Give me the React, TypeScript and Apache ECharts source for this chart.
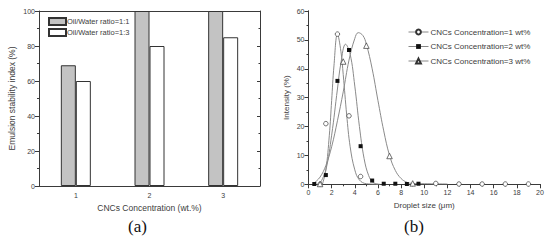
import React, { useEffect, useRef } from 'react';
import * as echarts from 'echarts';

// ---------- (a) bar chart data ----------
const concentrations = ['1', '2', '3'];
const ratio11 = [69, 100, 100];
const ratio13 = [60, 80, 85];

// ---------- (b) droplet size data ----------
const conc1Points = [[1, 0], [1.5, 21], [2.5, 52], [3.5, 23.7], [4.5, 2.7], [11, 0.3], [13, 0.1], [15, 0.1], [17, 0.1], [19, 0.1]];
const conc2Points = [[0.5, 0.1], [1.5, 3.2], [2.5, 35.8], [3.5, 46.5], [4.5, 13.2], [5.5, 1.3], [6.5, 0.2], [7.5, 0.2], [8.5, 0.1], [9.5, 0.2]];
const conc3Points = [[1, 0.1], [3, 42.5], [5, 48], [7, 9.8], [9, 0.3]];

// fitted curves
const conc1Fit = [[1.2, 0], [1.5, 5], [1.8, 17], [2.0, 29], [2.2, 41], [2.5, 52], [2.8, 46], [3.0, 38], [3.3, 24], [3.6, 13], [4.0, 5], [4.4, 1.5], [5.0, 0.2], [6, 0]];
const conc2Fit = [[1.0, 0.3], [1.5, 5], [2.0, 17], [2.5, 33], [2.8, 42], [3.2, 48.5], [3.6, 45], [4.0, 34], [4.4, 20], [4.8, 9], [5.2, 3], [5.6, 0.6], [6.2, 0]];
const conc3Fit = [[0.5, 0.5], [1.0, 2.5], [1.5, 6.5], [2.0, 13], [2.5, 22], [3.0, 32], [3.5, 43], [4.0, 50.5], [4.3, 52.5], [4.7, 51.5], [5.0, 48.5], [5.5, 40], [6.0, 29], [6.5, 18.5], [7.0, 10], [7.5, 4.8], [8.0, 2], [8.5, 0.7], [9.0, 0.3], [10, 0.2], [12, 0.1]];

const seriesNames = ['CNCs Concentration=1 wt%', 'CNCs Concentration=2 wt%', 'CNCs Concentration=3 wt%'];
const barNames = ['Oil/Water ratio=1:1', 'Oil/Water ratio=1:3'];

const FONT = 'Liberation Sans, Arial, sans-serif';
const AX = '#3a3a3a';
const TXT = '#3c3c3c';

export default function App() {
  const ref = useRef<HTMLDivElement>(null);
  useEffect(() => {
    if (!ref.current) return;
    const chart = echarts.init(ref.current, undefined, { renderer: 'svg' });
    const axisLine = { show: true, lineStyle: { color: AX, width: 1 } };
    const labelStyle = { color: TXT, fontSize: 7, fontFamily: FONT };
    const openMarker = { color: '#ffffff', borderColor: '#333', borderWidth: 0.7 };
    const option: any = {
      animation: false,
      backgroundColor: '#fff',
      grid: [
        { left: 39, top: 11, width: 221, height: 175 },
        { left: 308.5, top: 11, width: 231.5, height: 173.3 },
      ],
      legend: [
        {
          data: barNames,
          orient: 'vertical',
          left: 43,
          top: 12,
          itemWidth: 17,
          itemHeight: 7,
          itemGap: 2,
          icon: 'rect',
          textStyle: { fontSize: 7.5, color: TXT, fontFamily: FONT, padding: [0, 0, 0, -4] },
        },
        {
          data: seriesNames,
          orient: 'vertical',
          left: 403,
          top: 23,
          itemWidth: 20,
          itemHeight: 6,
          itemGap: 6.5,
          textStyle: { fontSize: 8, color: TXT, fontFamily: FONT, padding: [0, 0, 0, -3] },
          lineStyle: { color: '#888', width: 1, opacity: 1 },
        },
      ],
      xAxis: [
        {
          gridIndex: 0, type: 'category', data: concentrations, position: 'bottom',
          axisLine, axisTick: { alignWithLabel: true, length: 4, lineStyle: { color: AX } },
          axisLabel: { ...labelStyle, margin: 6 },
          name: 'CNCs Concentration (wt.%)', nameLocation: 'middle', nameGap: 15,
          nameTextStyle: { fontSize: 8.5, color: TXT, fontFamily: FONT },
        },
        {
          gridIndex: 0, type: 'category', data: concentrations, position: 'bottom',
          axisLine: { show: false }, axisTick: { length: 2, lineStyle: { color: AX } },
          axisLabel: { show: false },
        },
        {
          gridIndex: 0, type: 'category', data: concentrations, position: 'top',
          axisLine, axisTick: { alignWithLabel: true, inside: true, length: 3, lineStyle: { color: AX } },
          axisLabel: { show: false },
        },
        {
          gridIndex: 1, type: 'value', min: 0, max: 20, interval: 2, position: 'bottom',
          axisLine, axisTick: { length: 4, lineStyle: { color: AX } },
          minorTick: { show: true, splitNumber: 2, length: 2, lineStyle: { color: AX } },
          splitLine: { show: false },
          axisLabel: { ...labelStyle, margin: 5 },
          name: 'Droplet size (μm)', nameLocation: 'middle', nameGap: 17,
          nameTextStyle: { fontSize: 8, color: TXT, fontFamily: FONT },
        },
        {
          gridIndex: 1, type: 'value', min: 0, max: 20, interval: 2, position: 'top',
          axisLine, axisTick: { inside: true, length: 3, lineStyle: { color: AX } },
          minorTick: { show: true, splitNumber: 2, length: 1.5, lineStyle: { color: AX } },
          splitLine: { show: false }, axisLabel: { show: false },
        },
      ],
      yAxis: [
        {
          gridIndex: 0, type: 'value', min: 0, max: 100, interval: 20, position: 'left',
          axisLine, axisTick: { show: true, length: 4, lineStyle: { color: AX } },
          minorTick: { show: true, splitNumber: 2, length: 2, lineStyle: { color: AX } },
          splitLine: { show: false },
          axisLabel: { ...labelStyle, margin: 4 },
          name: 'Emulsion stability index (%)', nameLocation: 'middle', nameGap: 23,
          nameTextStyle: { fontSize: 8.5, color: TXT, fontFamily: FONT },
        },
        {
          gridIndex: 0, type: 'value', min: 0, max: 100, interval: 20, position: 'right',
          axisLine, axisTick: { show: true, inside: true, length: 3, lineStyle: { color: AX } },
          minorTick: { show: true, splitNumber: 2, length: 1.5, lineStyle: { color: AX } },
          splitLine: { show: false }, axisLabel: { show: false },
        },
        {
          gridIndex: 1, type: 'value', min: 0, max: 60, interval: 10, position: 'left',
          axisLine, axisTick: { show: true, length: 4, lineStyle: { color: AX } },
          minorTick: { show: true, splitNumber: 2, length: 2, lineStyle: { color: AX } },
          splitLine: { show: false },
          axisLabel: { ...labelStyle, margin: 4 },
          name: 'Intensity (%)', nameLocation: 'middle', nameGap: 18,
          nameTextStyle: { fontSize: 8, color: TXT, fontFamily: FONT },
        },
        {
          gridIndex: 1, type: 'value', min: 0, max: 60, interval: 10, position: 'right',
          axisLine, axisTick: { show: true, inside: true, length: 3, lineStyle: { color: AX } },
          minorTick: { show: true, splitNumber: 2, length: 1.5, lineStyle: { color: AX } },
          splitLine: { show: false }, axisLabel: { show: false },
        },
      ],
      graphic: [
        { type: 'text', left: 128, top: 218, style: { text: '(a)', font: '17px "Liberation Serif", "DejaVu Serif", serif', fill: '#111' } },
        { type: 'text', left: 404, top: 218, style: { text: '(b)', font: '17px "Liberation Serif", "DejaVu Serif", serif', fill: '#111' } },
      ],
      series: [
        {
          name: barNames[0], type: 'bar', xAxisIndex: 0, yAxisIndex: 0, data: ratio11,
          barWidth: 15, barGap: '0%',
          itemStyle: { color: '#c3c3c3', borderColor: '#333', borderWidth: 1 },
        },
        {
          name: barNames[1], type: 'bar', xAxisIndex: 0, yAxisIndex: 0, data: ratio13,
          barWidth: 15, barGap: '0%',
          itemStyle: { color: '#ffffff', borderColor: '#333', borderWidth: 1 },
        },
        // fitted curves
        ...[conc1Fit, conc2Fit, conc3Fit].map((d, i) => ({
          name: 'fit' + i, type: 'line', xAxisIndex: 3, yAxisIndex: 2, data: d,
          smooth: 0.4, showSymbol: false, symbol: 'none', z: 1,
          lineStyle: { color: '#8a8a8a', width: 1 },
        })),
        {
          name: seriesNames[0], type: 'line', xAxisIndex: 3, yAxisIndex: 2, data: conc1Points,
          symbol: 'circle', symbolSize: 4.5, z: 5,
          itemStyle: openMarker,
          lineStyle: { opacity: 0 },
        },
        {
          name: seriesNames[1], type: 'line', xAxisIndex: 3, yAxisIndex: 2, data: conc2Points,
          symbol: 'rect', symbolSize: 4, z: 6,
          itemStyle: { color: '#111', borderWidth: 0 },
          lineStyle: { opacity: 0 },
        },
        {
          name: seriesNames[2], type: 'line', xAxisIndex: 3, yAxisIndex: 2, data: conc3Points,
          symbol: 'triangle', symbolSize: 5.5, z: 5,
          itemStyle: openMarker,
          lineStyle: { opacity: 0 },
        },
      ],
    };
    chart.setOption(option);
    return () => chart.dispose();
  }, []);
  return <div ref={ref} style={{ position: 'fixed', left: 0, top: 0, width: 550, height: 242, background: '#fff' }} />;
}
